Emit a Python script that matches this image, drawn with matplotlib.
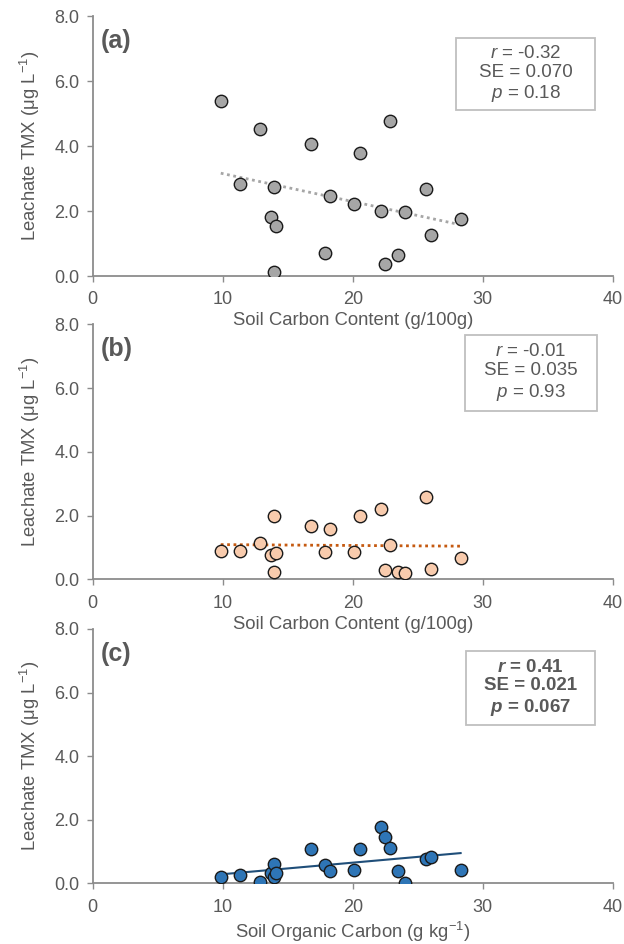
import numpy as np
import matplotlib
matplotlib.use('Agg')
import matplotlib.pyplot as plt
from matplotlib.patches import Rectangle
from matplotlib.ticker import FormatStrFormatter

plt.rcParams['font.family'] = ['Liberation Sans', 'DejaVu Sans']
plt.rcParams['mathtext.fontset'] = 'custom'
plt.rcParams['mathtext.rm'] = 'Liberation Sans'
plt.rcParams['mathtext.it'] = 'Liberation Sans:italic'
plt.rcParams['mathtext.bf'] = 'Liberation Sans:bold'
plt.rcParams['mathtext.bfit'] = 'Liberation Sans:italic:bold'

# soil carbon, same samples in every panel
soil_c = [9.85, 11.33, 12.85, 13.74, 13.92, 13.92, 14.07, 16.8, 17.9, 18.28,
          20.08, 20.56, 22.2, 22.5, 22.85, 23.5, 24.0, 25.64, 26.0, 28.3]
tmx_a = [5.38, 2.82, 4.52, 1.83, 2.73, 0.13, 1.55, 4.07, 0.72, 2.46,
         2.22, 3.80, 2.01, 0.36, 4.78, 0.66, 1.97, 2.69, 1.25, 1.74]
tmx_b = [0.90, 0.88, 1.15, 0.76, 2.00, 0.22, 0.84, 1.67, 0.86, 1.58,
         0.85, 2.00, 2.22, 0.29, 1.09, 0.23, 0.20, 2.59, 0.32, 0.66]
tmx_c = [0.19, 0.25, 0.04, 0.33, 0.60, 0.21, 0.31, 1.07, 0.58, 0.38,
         0.43, 1.07, 1.76, 1.45, 1.12, 0.40, 0.01, 0.76, 0.83, 0.41]

panel_ids = ['(a)', '(b)', '(c)']
xlabels = ['Soil Carbon Content (g/100g)', 'Soil Carbon Content (g/100g)',
           'Soil Organic Carbon (g kg$^{-1}$)']
stats_txt = [r'$\mathit{r}$ = -0.32' + '\nSE = 0.070\n' + r'$\mathit{p}$ = 0.18',
             r'$\mathit{r}$ = -0.01' + '\nSE = 0.035\n' + r'$\mathit{p}$ = 0.93',
             r'$\mathbfit{r}$ = 0.41' + '\nSE = 0.021\n' + r'$\mathbfit{p}$ = 0.067']

fills = ['#a6a6a6', '#f8cbad', '#2e75b6']
trend_col = ['#a6a6a6', '#c55a11', '#1f4e79']
trend_ls = [(0, (1, 1.3)), (0, (1, 1.3)), '-']
trend_lw = [2.0, 2.0, 1.5]
# stat box extents in axes fraction: x0, x1, y0, y1
boxes = [(0.699, 0.966, 0.638, 0.915),
         (0.716, 0.970, 0.660, 0.958),
         (0.718, 0.966, 0.622, 0.913)]

grey = '#595959'
axis_c = '#8c8c8c'

fig = plt.figure(figsize=(6.24, 9.44), dpi=100)
rects = [[0.1486, 0.7076, 0.8333, 0.2754],
         [0.1486, 0.3863, 0.8333, 0.2701],
         [0.1486, 0.0643, 0.8333, 0.2694]]

for i, tmx in enumerate([tmx_a, tmx_b, tmx_c]):
    ax = fig.add_axes(rects[i])
    ax.patch.set_alpha(0)
    x = np.array(soil_c)
    y = np.array(tmx)
    ax.scatter(x, y, s=80, c=fills[i], edgecolors='#1a1a1a', linewidths=1.0, zorder=3)
    k, b = np.polyfit(x, y, 1)
    xx = np.array([x.min(), x.max()])
    ax.plot(xx, k * xx + b, color=trend_col[i], ls=trend_ls[i], lw=trend_lw[i], zorder=2)

    ax.set_xlim(0, 40)
    ax.set_ylim(0, 8)
    ax.set_xticks([0, 10, 20, 30, 40])
    ax.set_yticks([0, 2, 4, 6, 8])
    ax.yaxis.set_major_formatter(FormatStrFormatter('%.1f'))
    for s in ['top', 'right']:
        ax.spines[s].set_visible(False)
    for s in ['left', 'bottom']:
        ax.spines[s].set_color(axis_c)
        ax.spines[s].set_linewidth(1.3)
    ax.tick_params(colors=axis_c, labelcolor=grey, labelsize=13, length=4, width=1.0)
    ax.tick_params(axis='x', pad=7)
    ax.tick_params(axis='y', pad=5.5)
    ax.set_xlabel(xlabels[i], fontsize=13.3, color=grey, labelpad=3)
    ax.set_ylabel('Leachate TMX (\u03bcg L$^{-1}$)', fontsize=13.3, color=grey, labelpad=9)

    ax.text(0.016, 0.903, panel_ids[i], transform=ax.transAxes, fontsize=18,
            fontweight='bold', color=grey, ha='left', va='center')
    x0, x1, y0, y1 = boxes[i]
    ax.add_patch(Rectangle((x0, y0), x1 - x0, y1 - y0, transform=ax.transAxes,
                           fc='white', ec='#bfbfbf', lw=1.3, zorder=4))
    ax.text((x0 + x1) / 2, (y0 + y1) / 2, stats_txt[i], transform=ax.transAxes,
            fontsize=13.5, color=grey, ha='center', va='center', multialignment='center',
            fontweight='bold' if i == 2 else 'normal', linespacing=1.15, zorder=5)

plt.savefig('out.png', dpi=100, facecolor='white')
